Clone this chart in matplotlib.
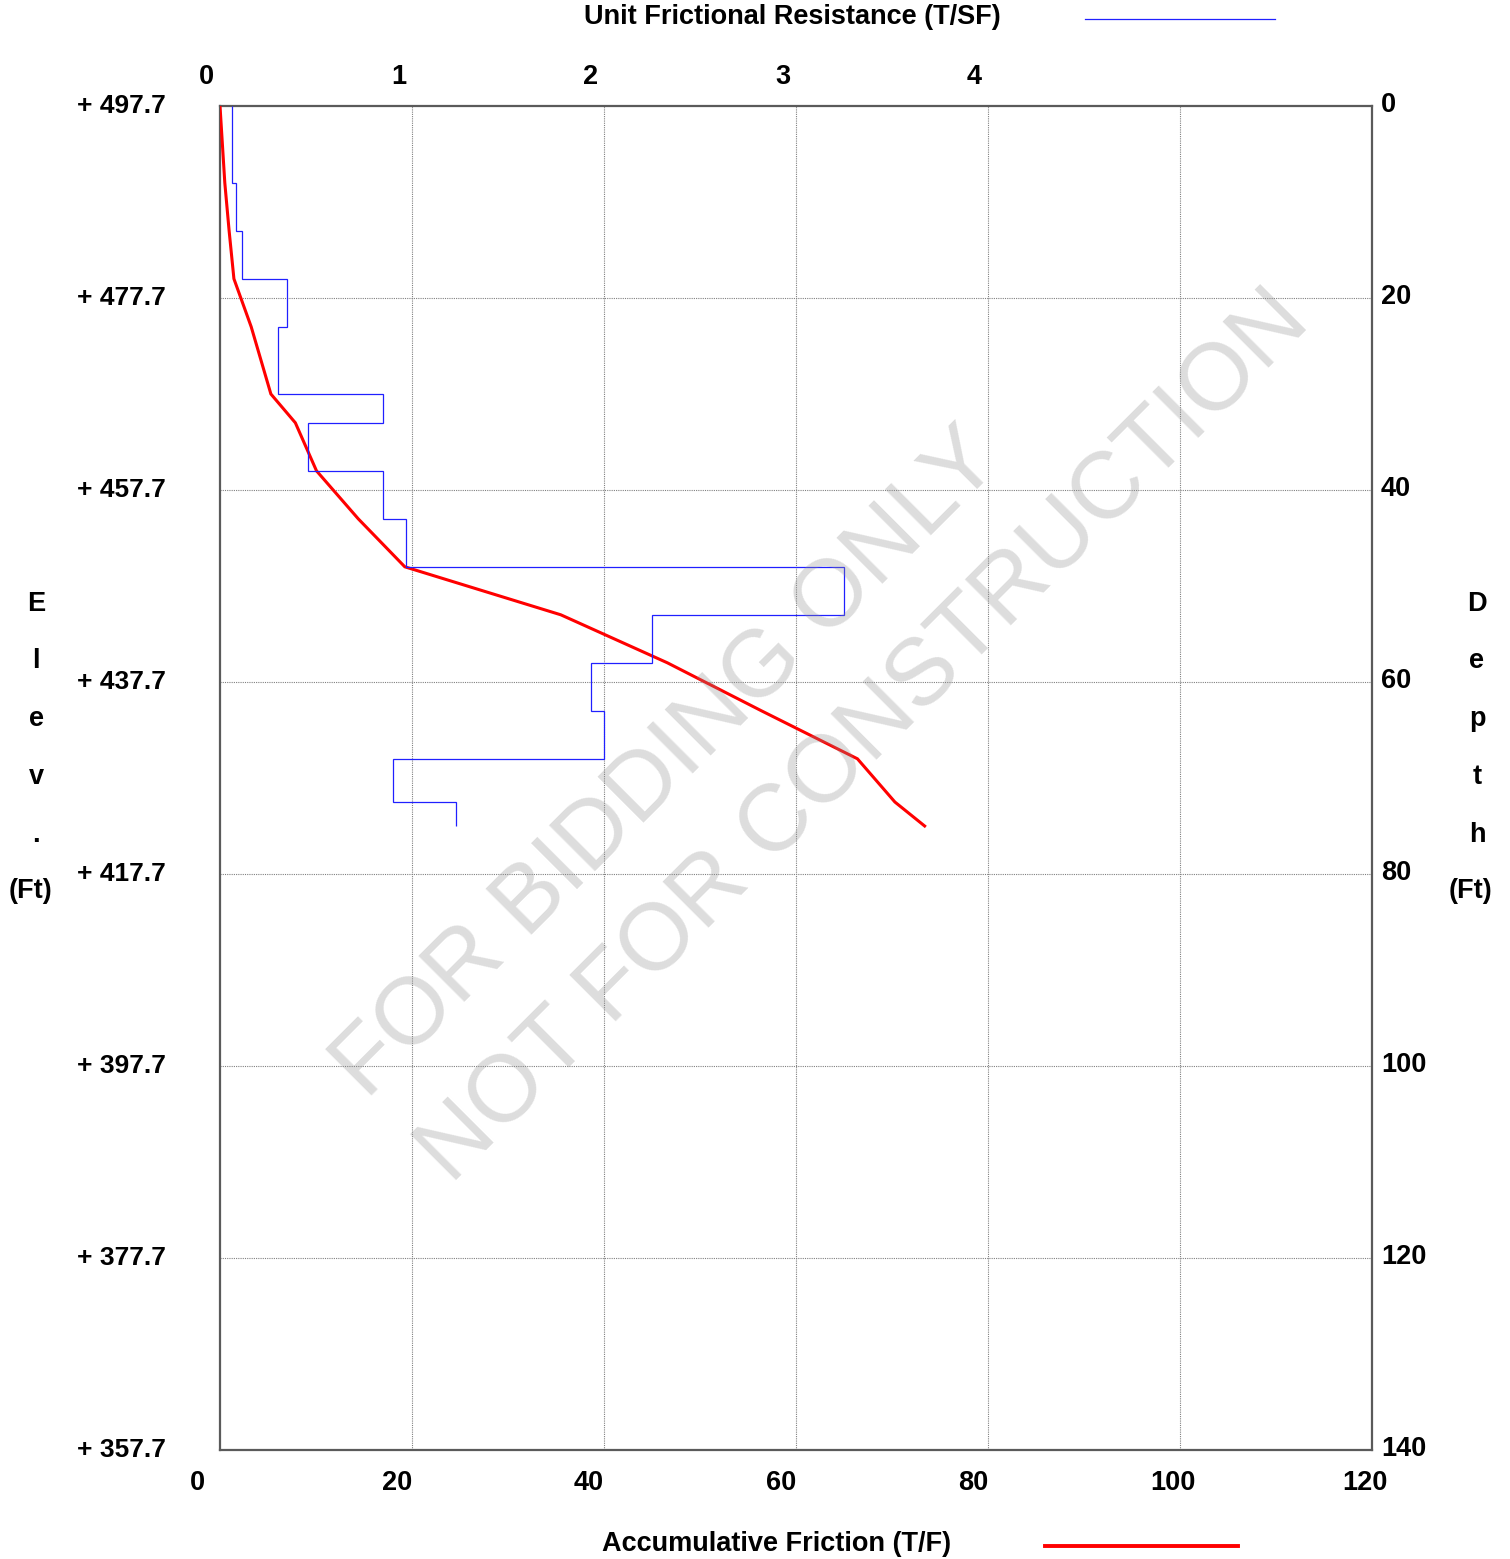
import numpy as np
import matplotlib
matplotlib.use("Agg")
import matplotlib.pyplot as plt
from matplotlib.lines import Line2D
from matplotlib.transforms import offset_copy

plt.rcParams['font.family'] = ['Liberation Sans', 'DejaVu Sans']

# ---- data -------------------------------------------------------------
# depth intervals (ft) for the unit frictional resistance profile
layer_edges = [0, 8, 13, 18, 23, 30, 33, 38, 43, 48, 53, 58, 63, 68, 72.5, 75]
unit_friction = [0.06, 0.085, 0.115, 0.35, 0.30, 0.85, 0.46, 0.85, 0.97,
                 3.25, 2.25, 1.93, 2.00, 0.90, 1.23]          # T/SF

# accumulative friction along the pile
acc_depth = [0, 8, 13, 18, 23, 30, 33, 38, 43, 48, 53, 58, 63, 68, 72.5, 75]
acc_friction = [0, 0.5, 0.95, 1.45, 3.25, 5.3, 7.85, 10.05, 14.4, 19.25,
                35.5, 46.6, 56.4, 66.4, 70.3, 73.4]            # T/F

top_elev = 497.7
depth_ticks = [0, 20, 40, 60, 80, 100, 120, 140]
acc_ticks = [0, 20, 40, 60, 80, 100, 120]
unit_ticks = [0, 1, 2, 3, 4]

# ---- figure -----------------------------------------------------------
W, H = 1510, 1559
fig = plt.figure(figsize=(W / 100, H / 100), dpi=100)
fig.patch.set_facecolor('white')

def fx(px):
    return px / W

def fy(py):
    return 1 - py / H

ax = fig.add_axes([fx(220), fy(1450), (1372 - 220) / W, (1450 - 106) / H])
ax.set_xlim(0, 120)
ax.set_ylim(140, 0)
ax.set_xticks([])
ax.set_yticks([])
for s in ax.spines.values():
    s.set_color('#5a5a5a')
    s.set_linewidth(1.6)

# dotted grid
for v in acc_ticks[1:-1]:
    ax.axvline(v, color='#808080', lw=0.8, ls=(0, (1, 1)), zorder=1)
for d in depth_ticks[1:-1]:
    ax.axhline(d, color='#808080', lw=0.8, ls=(0, (1, 1)), zorder=1)

# unit frictional resistance on the upper scale (0-6 T/SF)
ax2 = ax.twiny()
ax2.set_xlim(0, 6)
ax2.set_xticks([])
for s in ax2.spines.values():
    s.set_visible(False)
ax2.stairs(unit_friction, layer_edges, orientation='horizontal',
           baseline=None, color='#2020ff', lw=0.9, zorder=3)

# accumulative friction on the lower scale
ax.plot(acc_friction, acc_depth, color='#ff0000', lw=2.2, zorder=4,
        solid_joinstyle='miter')

# ---- tick labels --------------------------------------------------------
FS = 19.5
lab = dict(fontsize=FS, fontweight='bold', color='black')
xt_bottom = offset_copy(ax.get_xaxis_transform(), fig=fig, x=-30, y=-33, units='dots')
for v in acc_ticks:
    ax.text(v, 0, str(v), transform=xt_bottom, ha='left', va='center', **lab)

xt_top = offset_copy(ax2.get_xaxis_transform(), fig=fig, x=-21, y=29, units='dots')
for v in unit_ticks:
    ax2.text(v, 1, str(v), transform=xt_top, ha='left', va='center', **lab)

yt_right = offset_copy(ax.get_yaxis_transform(), fig=fig, x=9, y=1, units='dots')
for d in depth_ticks:
    ax.text(1, d, str(d), transform=yt_right, ha='left', va='center', **lab)

yt_left = offset_copy(ax.get_yaxis_transform(), fig=fig, x=-54, y=0, units='dots')
for d in depth_ticks:
    ax.text(0, d, f"+ {top_elev - d:.1f}", transform=yt_left, ha='right',
            va='center', fontsize=19, fontweight='bold')

# ---- axis titles --------------------------------------------------------
fig.text(fx(792), fy(17), 'Unit Frictional Resistance (T/SF)', ha='center',
         va='center', **lab)
fig.text(fx(777), fy(1544), 'Accumulative Friction (T/F)', ha='center',
         va='center', **lab)
fig.add_artist(Line2D([fx(1085), fx(1275)], [fy(19), fy(19)], color='#2020ff', lw=0.9))
fig.add_artist(Line2D([fx(1045), fx(1238)], [fy(1546), fy(1546)], color='#ff0000', lw=2.8))

left_title = ['E', 'l', 'e', 'v', '.', '(Ft)']
right_title = ['D', 'e', 'p', 't', 'h', '(Ft)']
title_rows = [604, 661, 719, 777, 835, 891]
for ch, py in zip(left_title, title_rows):
    fig.text(fx(31 if ch == '(Ft)' else 36), fy(py), ch, ha='center', va='center', **lab)
for ch, py in zip(right_title, title_rows):
    fig.text(fx(1471 if ch == '(Ft)' else 1477), fy(py), ch, ha='center', va='center', **lab)

# ---- watermark ----------------------------------------------------------
wm = dict(ha='left', va='baseline', rotation=45, rotation_mode='anchor',
          fontsize=68.5, color='#909090', alpha=0.3, zorder=10)
fig.text(fx(366), fy(1100), 'FOR BIDDING ONLY', **wm)
fig.text(fx(451), fy(1185), 'NOT FOR CONSTRUCTION', **wm)

fig.savefig('out.png', dpi=100, facecolor='white')
